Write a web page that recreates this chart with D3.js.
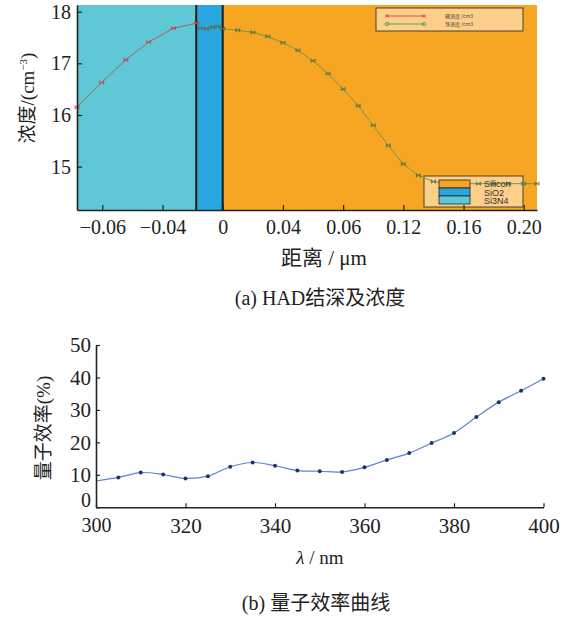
<!DOCTYPE html>
<html>
<head>
<meta charset="utf-8">
<script src="https://cdn.jsdelivr.net/npm/d3@7"></script>
<style>
  body { margin: 0; background: #fff; }
  svg { display: block; }
  text { font-family: "Liberation Serif", "Noto Sans CJK SC", serif; fill: #222; }
</style>
</head>
<body>
<div id="chart"></div>
<script>
// ---- chart (a): junction depth & concentration ----
// x positions are in axis-tick units (tick i sits at position i)
const depthTickLabels = ["\u22120.06", "\u22120.04", "0", "0.04", "0.06", "0.12", "0.16", "0.20"];
const concTicks = [15, 16, 17, 18];

// boron concentration (red)
const boronX = [-0.42, -0.01, 0.39, 0.77, 1.18, 1.57];
const boronY = [16.15, 16.63, 17.07, 17.41, 17.68, 17.78];

// net concentration (green)
const netX = [1.63, 1.73, 1.83, 1.92, 2.0, 2.25, 2.5, 2.75, 3.0, 3.25, 3.5, 3.75, 4.0, 4.25,
              4.5, 4.75, 5.0, 5.25, 5.5, 5.75, 6.0, 6.25, 6.5, 6.75, 7.0, 7.22];
const netY = [17.68, 17.67, 17.70, 17.71, 17.67, 17.64, 17.60, 17.52, 17.40, 17.25, 17.05, 16.80, 16.50, 16.18,
              15.80, 15.41, 15.05, 14.83, 14.71, 14.67, 14.67, 14.67, 14.67, 14.67, 14.67, 14.67];

// material layers
const layerNames = ["Si3N4", "SiO2", "Silicon"];
const layerStart = [-0.42, 1.56, 2.0];
const layerEnd = [1.56, 2.0, 7.22];
const layerColors = ["#5ec8d6", "#2aa7e0", "#f7a623"];

const seriesNames = ["硼浓度 /cm3", "净浓度 /cm3"];

// ---- chart (b): quantum efficiency ----
const wavelength = [300, 305, 310, 315, 320, 325, 330, 335, 340, 345, 350,
                    355, 360, 365, 370, 375, 380, 385, 390, 395, 400];
const efficiency = [8.1, 9.2, 10.7, 10.1, 8.9, 9.6, 12.5, 13.8, 12.8, 11.3, 11.1,
                    10.9, 12.3, 14.6, 16.7, 19.8, 22.9, 27.8, 32.4, 35.9, 39.6];
const effTicks = [0, 10, 20, 30, 40, 50];
const waveTicks = [300, 320, 340, 360, 380, 400];

const W = 566, H = 619;
const svg = d3.select("#chart").append("svg")
    .attr("width", W)
    .attr("height", H);

svg.append("rect").attr("width", W).attr("height", H).attr("fill", "#fff");

// ================= chart (a) =================
const x1 = d3.scaleLinear().domain([-0.42, 7.22]).range([77, 537]);
const y1 = d3.scaleLinear().domain([14.16, 18.13]).range([210, 5]);

const gA = svg.append("g");

// layer backgrounds
gA.selectAll(".layer")
    .data(layerNames)
    .enter().append("rect")
    .attr("x", (d, i) => x1(layerStart[i]))
    .attr("y", y1(18.13))
    .attr("width", (d, i) => x1(layerEnd[i]) - x1(layerStart[i]))
    .attr("height", y1(14.16) - y1(18.13))
    .attr("fill", (d, i) => layerColors[i]);

// layer boundaries
gA.selectAll(".bound")
    .data([1.56, 2.0])
    .enter().append("line")
    .attr("x1", d => x1(d)).attr("x2", d => x1(d))
    .attr("y1", y1(18.13)).attr("y2", y1(14.16))
    .attr("stroke", "#1b1b1b")
    .attr("stroke-width", 2);

// layer legend box (drawn under the curve, swatches drawn after)
const lx = 424, ly = 176;
gA.append("rect")
    .attr("x", lx).attr("y", ly)
    .attr("width", 99).attr("height", 31)
    .attr("fill", "#fcd08a")
    .attr("stroke", "#4a4030")
    .attr("stroke-width", 1);

// curves
const line1 = d3.line().x(d => x1(d[0])).y(d => y1(d[1]));
const boronPts = boronX.map((x, i) => [x, boronY[i]]);
const netPts = netX.map((x, i) => [x, netY[i]]);

function drawSeries(pts, lineColor, markColor) {
    gA.append("path")
        .datum(pts)
        .attr("d", line1)
        .attr("fill", "none")
        .attr("stroke", lineColor)
        .attr("stroke-width", 1);
    gA.selectAll(null)
        .data(pts)
        .enter().append("path")
        .attr("transform", d => "translate(" + x1(d[0]) + "," + y1(d[1]) + ")")
        .attr("d", "M-2,-1.5L2,1.5M-2,1.5L2,-1.5M-2,-1.8V1.8M2,-1.8V1.8")
        .attr("fill", "none")
        .attr("stroke", markColor)
        .attr("stroke-width", 0.8);
}
drawSeries(boronPts, "#b0605a", "#d23c3c");
drawSeries(netPts, "#6f9a4a", "#4f6a48");

// layer legend swatches + labels
layerNames.slice().reverse().forEach((name, k) => {
    const i = layerNames.length - 1 - k;
    gA.append("rect")
        .attr("x", lx + 15).attr("y", ly + 4 + k * 8)
        .attr("width", 31).attr("height", 8)
        .attr("fill", layerColors[i])
        .attr("stroke", "#222")
        .attr("stroke-width", 0.8);
    gA.append("text")
        .attr("x", lx + 60).attr("y", ly + 11 + k * 8.5)
        .style("font-family", "'Liberation Sans', Arial, sans-serif")
        .style("font-size", "9px")
        .style("fill", "#333")
        .text(name);
});

// series legend
const sx = 376, sy = 8;
gA.append("rect")
    .attr("x", sx).attr("y", sy)
    .attr("width", 147).attr("height", 23)
    .attr("fill", "#fcd08a")
    .attr("stroke", "#4a4030")
    .attr("stroke-width", 1);
[["#f04a4a", "#e03030"], ["#4cae4c", "#3c8c3c"]].forEach((c, i) => {
    const yy = sy + 8 + i * 8;
    gA.append("line")
        .attr("x1", sx + 11).attr("x2", sx + 48)
        .attr("y1", yy).attr("y2", yy)
        .attr("stroke", c[0]).attr("stroke-width", 1);
    [sx + 11, sx + 48].forEach(px => {
        gA.append("path")
            .attr("transform", "translate(" + px + "," + yy + ")")
            .attr("d", i === 0 ? "M-2,-1.5L2,1.5M-2,1.5L2,-1.5" : "M-2,0a2,1.5 0 1,0 4,0a2,1.5 0 1,0 -4,0")
            .attr("fill", "none")
            .attr("stroke", c[1]).attr("stroke-width", 0.8);
    });
    gA.append("text")
        .attr("x", sx + 69).attr("y", yy + 2)
        .style("font-family", "'Noto Sans CJK SC', sans-serif")
        .style("font-size", "5px")
        .style("fill", "#444")
        .text(seriesNames[i]);
});

// axes (a)
const xAxisA = d3.axisBottom(x1)
    .tickValues(d3.range(depthTickLabels.length))
    .tickFormat(i => depthTickLabels[i])
    .tickSizeInner(-5).tickSizeOuter(0).tickPadding(10);
const yAxisA = d3.axisLeft(y1)
    .tickValues(concTicks)
    .tickFormat(d3.format("d"))
    .tickSizeInner(-5).tickSizeOuter(0).tickPadding(6);

const gxA = gA.append("g").attr("transform", "translate(0," + y1(14.16) + ")").call(xAxisA);
const gyA = gA.append("g").attr("transform", "translate(" + x1(-0.42) + ",0)").call(yAxisA);
[gxA, gyA].forEach(g => {
    g.select(".domain").attr("stroke", "#222").attr("stroke-width", 1.6);
    g.selectAll(".tick line").attr("stroke", "#222").attr("stroke-width", 1.2);
    g.selectAll("text").style("font-family", "'Liberation Serif', serif")
        .style("font-size", "20px").style("fill", "#222");
});

gA.append("text")
    .attr("x", 324).attr("y", 265)
    .attr("text-anchor", "middle")
    .style("font-size", "21px")
    .text("距离 / μm");

const yt = gA.append("text")
    .attr("transform", "translate(34,98) rotate(-90)")
    .attr("text-anchor", "middle")
    .style("font-size", "19px");
yt.append("tspan").text("浓度/(cm");
yt.append("tspan").attr("dy", -7).style("font-size", "11px").text("−3");
yt.append("tspan").attr("dy", 7).text(")");

gA.append("text")
    .attr("x", 320).attr("y", 305)
    .attr("text-anchor", "middle")
    .style("font-size", "20px")
    .text("(a) HAD结深及浓度");

// ================= chart (b) =================
const x2 = d3.scaleLinear().domain([300, 400]).range([96, 543.5]);
const y2 = d3.scaleLinear().domain([0, 50]).range([507.3, 345]);
const gB = svg.append("g");

const effPts = wavelength.map((w, i) => [w, efficiency[i]]);
const line2 = d3.line().x(d => x2(d[0])).y(d => y2(d[1])).curve(d3.curveCatmullRom.alpha(0.5));

gB.append("path")
    .datum(effPts)
    .attr("d", line2)
    .attr("fill", "none")
    .attr("stroke", "#5b86d2")
    .attr("stroke-width", 1.2);

gB.selectAll(".pt")
    .data(effPts.slice(1))
    .enter().append("circle")
    .attr("cx", d => x2(d[0]))
    .attr("cy", d => y2(d[1]))
    .attr("r", 2)
    .attr("fill", "#1d3470");

const xAxisB = d3.axisBottom(x2).tickValues(waveTicks)
    .tickSizeInner(-4).tickSizeOuter(0).tickPadding(11);
const yAxisB = d3.axisLeft(y2).tickValues(effTicks)
    .tickSizeInner(-4).tickSizeOuter(0).tickPadding(5);
const gxB = gB.append("g").attr("transform", "translate(0," + y2(0) + ")").call(xAxisB);
const gyB = gB.append("g").attr("transform", "translate(" + x2(300) + ",0)").call(yAxisB);
[gxB, gyB].forEach(g => {
    g.select(".domain").attr("stroke", "#222").attr("stroke-width", 1.6);
    g.selectAll(".tick line").attr("stroke", "#222").attr("stroke-width", 1.2);
    g.selectAll("text").style("font-family", "'Liberation Serif', serif")
        .style("font-size", "21px").style("fill", "#222");
});
gyB.selectAll(".tick text").filter(d => d === 0).attr("dy", "-0.02em").style("font-size", "20px");
gxB.selectAll(".tick text").filter(d => d === 300).style("font-size", "20px");

const xt = gB.append("text")
    .attr("x", 320).attr("y", 564)
    .attr("text-anchor", "middle")
    .style("font-size", "19px");
xt.append("tspan").style("font-style", "italic").text("λ");
xt.append("tspan").text(" / nm");

gB.append("text")
    .attr("transform", "translate(50,428) rotate(-90)")
    .attr("text-anchor", "middle")
    .style("font-size", "19px")
    .style("fill", "#222")
    .text("量子效率(%)");

gB.append("text")
    .attr("x", 316).attr("y", 610)
    .attr("text-anchor", "middle")
    .style("font-size", "20px")
    .text("(b) 量子效率曲线");
</script>
</body>
</html>
